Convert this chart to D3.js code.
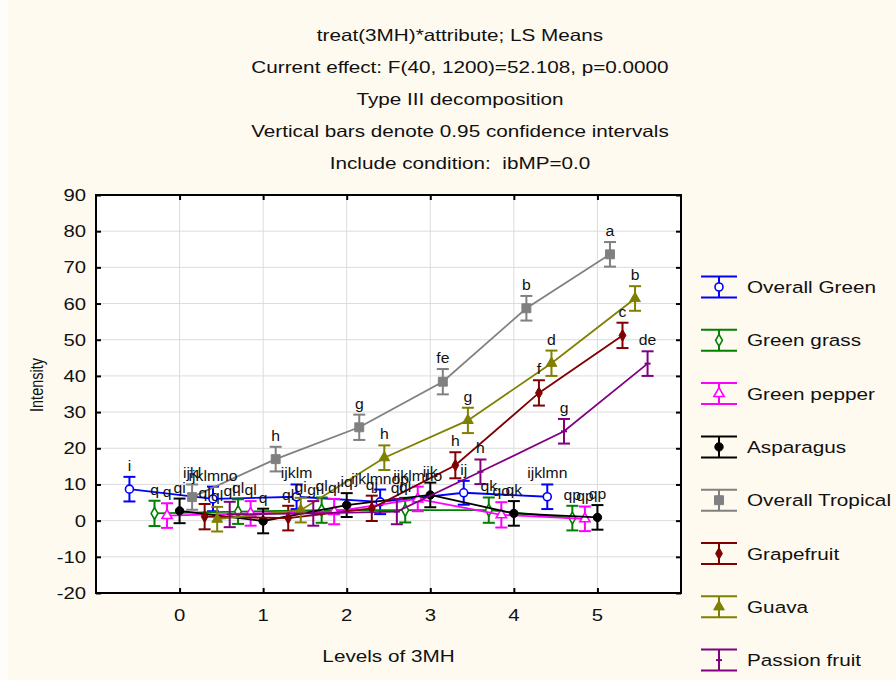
<!DOCTYPE html>
<html>
<head>
<meta charset="utf-8">
<script src="https://cdn.jsdelivr.net/npm/d3@7/dist/d3.min.js"></script>
<style>
    body { margin: 0; background: #fefaf0; }
    svg { display: block; }
    text { font-family: "Liberation Sans", Arial, sans-serif; fill: #111; }
</style>
</head>
<body>
<div id="container"></div>
<script>
// levels of 3MH and the 8 attributes
const levels = [0, 1, 2, 3, 4, 5]
const seriesNames = ['Overall Green', 'Green grass', 'Green pepper', 'Asparagus',
    'Overall Tropical', 'Grapefruit', 'Guava', 'Passion fruit']
const seriesColors = ['#0000ff', '#008000', '#ff00ff', '#000000', '#808080', '#800000', '#808000', '#800080']
const seriesMarkers = ['circleOpen', 'diamondOpen', 'triangleOpen', 'circle', 'square', 'diamond', 'triangle', 'dash']

// LS means
const overallGreen = [8.7, 6.0, 6.6, 5.2, 7.7, 6.6]
const greenGrass = [2.0, 2.5, 2.9, 2.9, 2.9, 0.7]
const greenPepper = [1.4, 2.0, 2.5, 6.0, 1.6, 0.5]
const asparagus = [2.7, -0.1, 4.3, 7.1, 2.0, 0.9]
const overallTropical = [6.5, 17.0, 25.8, 38.4, 58.7, 73.6]
const grapefruit = [1.1, 0.7, 3.4, 15.3, 35.3, 51.2]
const guava = [0.4, 2.9, 17.4, 27.7, 43.5, 61.4]
const passionFruit = [1.7, 2.0, 2.5, 13.5, 24.7, 43.4]

// half width of 0.95 confidence intervals
const ciOverallGreen = [3.4, 3.4, 3.4, 3.4, 3.3, 3.4]
const ciGreenGrass = [3.5, 3.4, 3.5, 3.4, 3.5, 3.4]
const ciGreenPepper = [3.4, 3.4, 3.5, 3.4, 3.5, 3.4]
const ciAsparagus = [3.4, 3.4, 3.3, 3.4, 3.4, 3.4]
const ciOverallTropical = [3.5, 3.4, 3.5, 3.5, 3.4, 3.4]
const ciGrapefruit = [3.5, 3.4, 3.5, 3.6, 3.5, 3.5]
const ciGuava = [3.4, 3.4, 3.4, 3.5, 3.5, 3.4]
const ciPassionFruit = [3.5, 3.4, 3.5, 3.4, 3.4, 3.4]

// letters of homogeneous groups
const lblOverallGreen = ['i', 'ijklmno', 'ijklm', 'ijklmnop', 'ij', 'ijklmn']
const lblGreenGrass = ['q', 'ql', 'ql', 'ql', 'qk', 'qp']
const lblGreenPepper = ['q', 'ql', 'ql', 'ijklmno', 'qo', 'qp']
const lblAsparagus = ['qi', 'q', 'iq', 'ijk', 'qk', 'qp']
const lblOverallTropical = ['ijkl', 'h', 'g', 'fe', 'b', 'a']
const lblGrapefruit = ['ql', 'ql', 'qj', 'h', 'f', 'c']
const lblGuava = ['ql', 'gi', 'h', 'g', 'd', 'b']
const lblPassionFruit = ['ql', 'gi', 'ql', 'h', 'g', 'de']

const yTicks = [90, 80, 70, 60, 50, 40, 30, 20, 10, 0, -10, -20]
const xTicks = [0, 1, 2, 3, 4, 5]
const titleLines = [
    'treat(3MH)*attribute; LS Means',
    'Current effect: F(40, 1200)=52.108, p=0.0000',
    'Type III decomposition',
    'Vertical bars denote 0.95 confidence intervals',
    'Include condition:  ibMP=0.0'
]

const means = [overallGreen, greenGrass, greenPepper, asparagus, overallTropical, grapefruit, guava, passionFruit]
const cis = [ciOverallGreen, ciGreenGrass, ciGreenPepper, ciAsparagus, ciOverallTropical, ciGrapefruit, ciGuava, ciPassionFruit]
const labels = [lblOverallGreen, lblGreenGrass, lblGreenPepper, lblAsparagus, lblOverallTropical, lblGrapefruit, lblGuava, lblPassionFruit]
// horizontal shift of each attribute around the level
const dodge = [-0.6, -0.3, -0.15, 0, 0.15, 0.3, 0.45, 0.6]

const width = 896
const height = 680
const stretch = 1.27 // text in the picture is wide
const margin = { top: 195, right: 215, bottom: 87, left: 96 }

const svg = d3.select('#container').append('svg').attr('width', width).attr('height', height)
svg.append('rect').attr('width', width).attr('height', height).attr('fill', '#fefaf0')
svg.append('rect').attr('width', 8).attr('height', height).attr('fill', '#fffdf9')

const xScale = d3.scaleLinear().domain([-1, 6]).range([margin.left, width - margin.right])
const yScale = d3.scaleLinear().domain([-20, 90]).range([height - margin.bottom, margin.top])
const x0 = xScale.range()[0], x1 = xScale.range()[1]
const y0 = yScale.range()[0], y1 = yScale.range()[1]

const wideText = (sel, x, y, size, s) => sel.append('text')
    .attr('transform', `translate(${x},${y}) scale(${s || stretch},1)`)
    .style('font-size', size + 'px')

// titles
titleLines.forEach((t, i) => {
    wideText(svg, 460, 41 + i * 32, 16.3).attr('text-anchor', 'middle').attr('xml:space', 'preserve').text(t)
})

// plot area
svg.append('rect').attr('x', x0).attr('y', y1).attr('width', x1 - x0).attr('height', y0 - y1).attr('fill', '#fff')

const grid = svg.append('g').attr('stroke', '#dcdcdc').attr('stroke-width', 1)
grid.selectAll('.gy').data(yTicks).enter().append('line')
    .attr('x1', x0).attr('x2', x1).attr('y1', d => yScale(d)).attr('y2', d => yScale(d))
grid.selectAll('.gx').data(xTicks).enter().append('line')
    .attr('y1', y0).attr('y2', y1).attr('x1', d => xScale(d)).attr('x2', d => xScale(d))

// axes with inward ticks on every side
const axisLeft = svg.append('g').attr('transform', `translate(${x0},0)`)
    .call(d3.axisLeft(yScale).tickValues(yTicks).tickSizeInner(-5).tickSizeOuter(0).tickFormat(''))
const axisRight = svg.append('g').attr('transform', `translate(${x1},0)`)
    .call(d3.axisRight(yScale).tickValues(yTicks).tickSizeInner(-5).tickSizeOuter(0).tickFormat(''))
const axisBottom = svg.append('g').attr('transform', `translate(0,${y0})`)
    .call(d3.axisBottom(xScale).tickValues(xTicks).tickSizeInner(-5).tickSizeOuter(0).tickFormat(''))
const axisTop = svg.append('g').attr('transform', `translate(0,${y1})`)
    .call(d3.axisTop(xScale).tickValues(xTicks).tickSizeInner(-5).tickSizeOuter(0).tickFormat(''))
;[axisLeft, axisRight, axisBottom, axisTop].forEach(a => {
    a.selectAll('.domain').remove()
    a.selectAll('line').attr('stroke', '#000').attr('stroke-width', 2)
})
svg.append('rect').attr('x', x0).attr('y', y1).attr('width', x1 - x0).attr('height', y0 - y1)
    .attr('fill', 'none').attr('stroke', '#000').attr('stroke-width', 2)

// tick labels
yTicks.forEach(d => wideText(svg, 86, yScale(d) + 6, 16).attr('text-anchor', 'end').text(d))
xTicks.forEach(d => wideText(svg, xScale(d), 621, 16).attr('text-anchor', 'middle').text(d))
wideText(svg, (x0 + x1) / 2, 662, 16.3).attr('text-anchor', 'middle').text('Levels of 3MH')
svg.append('text')
    .attr('transform', `translate(43,385) scale(${stretch},1) rotate(-90)`)
    .attr('text-anchor', 'middle').style('font-size', '14.5px').text('Intensity')

// markers
const drawMarker = (g, type, color, x, y) => {
    if (type === 'dash') {
        g.append('line').attr('x1', x - 3).attr('x2', x + 3).attr('y1', y).attr('y2', y)
            .attr('stroke', color).attr('stroke-width', 2)
        return
    }
    const kinds = {
        circleOpen: [d3.symbolCircle, 50, true], circle: [d3.symbolCircle, 55, false],
        diamondOpen: [d3.symbolDiamond, 40, true], diamond: [d3.symbolDiamond, 40, false],
        triangleOpen: [d3.symbolTriangle, 45, true], triangle: [d3.symbolTriangle, 50, false],
        square: [d3.symbolSquare, 80, false]
    }
    const [sym, size, open] = kinds[type]
    g.append('path').attr('d', d3.symbol(sym, size)())
        .attr('transform', `translate(${x},${y})`)
        .attr('fill', open ? '#fff' : color).attr('stroke', color).attr('stroke-width', open ? 1.6 : 1)
}

const line = d3.line().x(d => d.x).y(d => d.y)
const plot = svg.append('g')
means.forEach((vals, si) => {
    const color = seriesColors[si]
    const pts = vals.map((v, i) => ({
        x: xScale(levels[i] + dodge[si]), y: yScale(v),
        lo: yScale(v - cis[si][i]), hi: yScale(v + cis[si][i]), lbl: labels[si][i]
    }))
    const g = plot.append('g')
    g.append('path').attr('d', line(pts)).attr('fill', 'none').attr('stroke', color).attr('stroke-width', 1.8)
    pts.forEach(p => {
        g.append('line').attr('x1', p.x).attr('x2', p.x).attr('y1', p.lo).attr('y2', p.hi)
            .attr('stroke', color).attr('stroke-width', 2)
        ;[p.lo, p.hi].forEach(yy => g.append('line').attr('x1', p.x - 6).attr('x2', p.x + 6)
            .attr('y1', yy).attr('y2', yy).attr('stroke', color).attr('stroke-width', 2))
        drawMarker(g, seriesMarkers[si], color, p.x, p.y)
    })
    pts.forEach(p => {
        wideText(svg, p.x, p.hi - 6, 15, 1.05).attr('text-anchor', 'middle').text(p.lbl)
    })
})

// legend
const legend = svg.append('g')
seriesNames.forEach((name, i) => {
    const cy = 287 + i * 53.3
    const color = seriesColors[i]
    const g = legend.append('g')
    ;[cy - 10.5, cy + 10.5].forEach(yy => g.append('line').attr('x1', 701).attr('x2', 737)
        .attr('y1', yy).attr('y2', yy).attr('stroke', color).attr('stroke-width', 2))
    g.append('line').attr('x1', 719).attr('x2', 719).attr('y1', cy - 10.5).attr('y2', cy + 10.5)
        .attr('stroke', color).attr('stroke-width', 2)
    drawMarker(g, seriesMarkers[i], color, 719, cy)
    wideText(g, 747, cy + 6, 17, 1.22).text(name)
})
</script>
</body>
</html>
